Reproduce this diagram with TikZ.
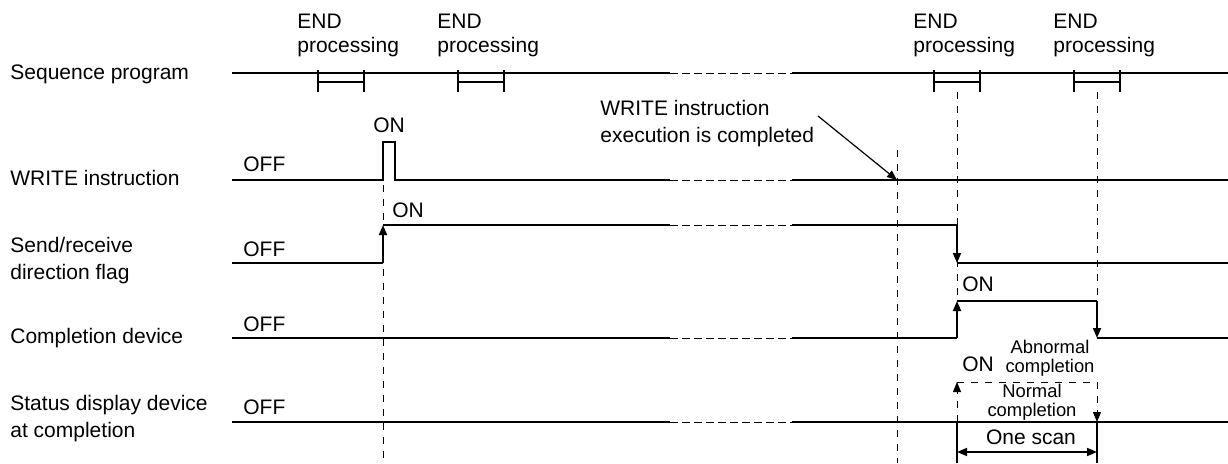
\documentclass[tikz,border=0pt]{standalone}
\usepackage{fontspec}
\setmainfont{Liberation Sans}
\usetikzlibrary{arrows.meta, positioning}
\tikzset{
  sig/.style    = {line width=0.9pt},
  gapline/.style= {line width=0.5pt, dash pattern=on 4pt off 2pt},
  guide/.style  = {line width=0.5pt, dash pattern=on 3.5pt off 3.5pt},
  tip/.style    = {-{Triangle[length=5pt,width=4pt]}},
  lbl/.style    = {anchor=west, inner sep=0pt, align=left,
                   font=\fontsize{10.5}{13.5}\selectfont},
  small/.style  = {inner sep=0pt, align=center,
                   font=\fontsize{9.2}{9.5}\selectfont},
}

\begin{document}
\begin{tikzpicture}[x=0.5pt, y=-0.5pt]
  \useasboundingbox (0,0) rectangle (1228,463);
  \def\gapa{670}
  \def\gapb{792}

  % signal names
  \node[lbl] (nseq)  at (10,74)  {Sequence program};
  \node[lbl] (nwr)   at (10,178) {WRITE instruction};
  \node[lbl] (nflag) at (10,261) {Send/receive\\direction flag};
  \node[lbl] (ncomp) at (10,338) {Completion device};
  \node[lbl] (nstat) at (10,419) {Status display device\\at completion};

  % OFF / ON levels
  \foreach \y/\name in {164/offwr, 249/offflag, 324/offcomp, 407/offstat}{
    \node[lbl] (\name) at (243,\y) {OFF};
  }
  \node[lbl, anchor=center] (onwr) at (389,125) {ON};
  \node[lbl] (onflag) at (392,210) {ON};
  \node[lbl] (oncomp) at (962,284) {ON};
  \node[lbl] (onstat) at (962,364) {ON};

  % guide lines
  \draw[guide] (383,185) -- (383,463);
  \draw[guide] (897,150) -- (897,463);
  \draw[guide] (957,92) -- (957,301);
  \draw[guide] (1097,92) -- (1097,301);

  % sequence program with END processing
  \draw[sig] (232,73) -- (\gapa,73) (\gapb,73) -- (1228,73);
  \draw[gapline] (\gapa,73) -- (\gapb,73);
  \foreach \x/\name in {318/enda, 458/endb, 934/endc, 1074/endd}{
    \draw[sig] (\x,70) -- (\x,92) (\x+46,70) -- (\x+46,92)
               (\x,82) -- (\x+46,82);
    \node[lbl, anchor=north west, font=\fontsize{10.5}{12}\selectfont]
      (\name) at (\x-21,14) {END\\processing};
  }

  % WRITE instruction
  \draw[sig] (232,180) -- (383,180) -- (383,142) -- (395,142) -- (395,180)
             -- (\gapa,180) (\gapb,180) -- (1228,180);
  \draw[gapline] (\gapa,180) -- (\gapb,180);
  \node[lbl] (note) at (600,124) {WRITE instruction\\execution is completed};
  \coordinate (notetail) at (818,116);
  \coordinate (wrdone) at (897,180);
  \draw[line width=0.6pt, tip] (notetail) -- (wrdone);

  % send/receive direction flag
  \draw[sig] (232,263) -- (383,263);
  \draw[sig, tip] (383,263) -- (383,225);
  \draw[sig] (383,225) -- (\gapa,225) (\gapb,225) -- (957,225);
  \draw[gapline] (\gapa,225) -- (\gapb,225);
  \draw[sig, tip] (957,225) -- (957,263);
  \draw[sig] (957,263) -- (1228,263);

  % completion device
  \draw[sig] (232,338) -- (\gapa,338) (\gapb,338) -- (957,338);
  \draw[gapline] (\gapa,338) -- (\gapb,338);
  \draw[sig, tip] (957,338) -- (957,301);
  \draw[sig] (957,301) -- (1097,301);
  \draw[sig, tip] (1097,301) -- (1097,338);
  \draw[sig] (1097,338) -- (1228,338);

  % status display device at completion
  \draw[sig] (232,422) -- (\gapa,422) (\gapb,422) -- (1228,422);
  \draw[gapline] (\gapa,422) -- (\gapb,422);
  \draw[guide, tip] (957,422) -- (957,382);
  \draw[guide] (957,382) -- (1097,382);
  \draw[guide, tip] (1097,382) -- (1097,422);
  \node[small] (abn) at (1050,358) {Abnormal\\completion};
  \node[small] (nrm) at (1032,402) {Normal\\completion};

  % one scan
  \draw[sig] (957,422) -- (957,463) (1097,422) -- (1097,463);
  \coordinate (scana) at (957,452);
  \coordinate (scanb) at (1097,452);
  \draw[line width=0.8pt, {Triangle[length=5pt,width=4pt]}-{Triangle[length=5pt,width=4pt]}]
    (scana) -- (scanb);
  \node[lbl, anchor=center] (scan) at (1031,437) {One scan};
\end{tikzpicture}
\end{document}
